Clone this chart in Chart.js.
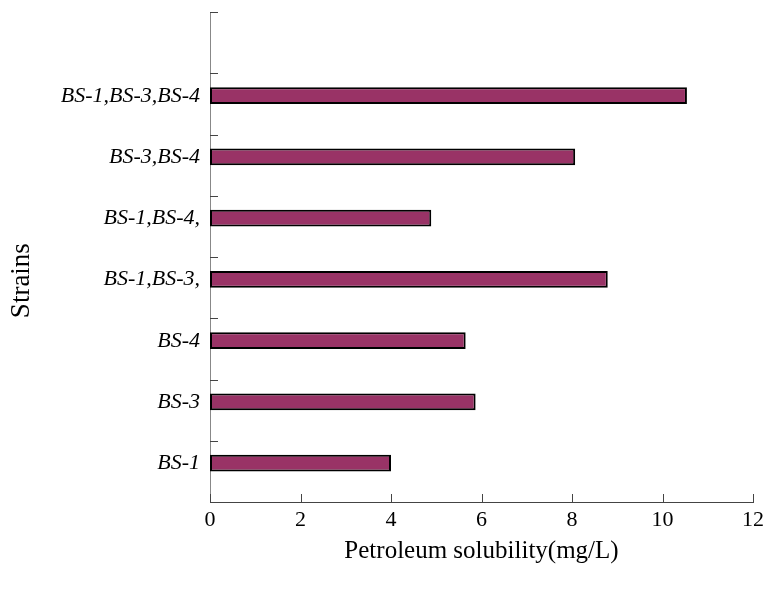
<!DOCTYPE html>
<html>
<head>
<meta charset="utf-8">
<script src="https://cdn.jsdelivr.net/npm/chart.js@4.4.0/dist/chart.umd.min.js"></script>
<style>
  html, body { margin: 0; padding: 0; background: #fff; }
  #chart { display: block; }
</style>
</head>
<body>
<canvas id="chart" width="777" height="589"></canvas>
<script>
// Strains, listed top to bottom (the top slot is empty in the original)
const strains = ['', 'BS-1,BS-3,BS-4', 'BS-3,BS-4', 'BS-1,BS-4,', 'BS-1,BS-3,', 'BS-4', 'BS-3', 'BS-1'];
// Petroleum solubility (mg/L)
const solubility = [null, 10.54, 8.07, 4.89, 8.79, 5.65, 5.87, 4.0];
// second, empty series of the original sheet (keeps bars above the slot centre)
const emptySeries = [null, null, null, null, null, null, null, null];
const xMin = 0;
const xMax = 12;
const xStep = 2;

// short tick marks pointing into the plot, placed from the scales
const innerTicks = {
    id: 'innerTicks',
    afterDatasetsDraw(chart) {
        const { ctx, scales: { x, y } } = chart;
        ctx.save();
        ctx.strokeStyle = '#444';
        ctx.lineWidth = 1;
        ctx.beginPath();
        for (let i = 0; i <= strains.length; i++) {
            const py = Math.round(y.getPixelForValue(i - 0.5)) + 0.5;
            ctx.moveTo(y.right, py);
            ctx.lineTo(y.right + 8, py);
        }
        x.ticks.forEach(t => {
            const px = Math.round(x.getPixelForValue(t.value)) + 0.5;
            ctx.moveTo(px, x.top);
            ctx.lineTo(px, x.top - 8);
        });
        ctx.stroke();
        ctx.restore();
    }
};

const serif = 'Liberation Serif, Times New Roman, serif';

new Chart(document.getElementById('chart').getContext('2d'), {
    type: 'bar',
    data: {
        labels: strains,
        datasets: [{
            label: 'Petroleum solubility',
            data: solubility,
            backgroundColor: '#993366',
            borderColor: '#000',
            borderWidth: 2,
            borderSkipped: false,
            categoryPercentage: 0.54,
            barPercentage: 1.0
        }, {
            label: '',
            data: emptySeries,
            categoryPercentage: 0.54,
            barPercentage: 1.0
        }]
    },
    plugins: [innerTicks],
    options: {
        indexAxis: 'y',
        responsive: false,
        devicePixelRatio: 1,
        animation: false,
        layout: { padding: { left: 0, top: 12, right: 24, bottom: 0 } },
        plugins: {
            legend: { display: false },
            tooltip: { enabled: false }
        },
        scales: {
            x: {
                min: xMin,
                max: xMax,
                grid: { display: false, drawTicks: false },
                border: { display: true, color: '#444', width: 1 },
                ticks: {
                    stepSize: xStep,
                    padding: 5,
                    color: '#000',
                    font: { family: serif, size: 22 }
                },
                title: {
                    display: true,
                    text: 'Petroleum solubility(mg/L)',
                    color: '#000',
                    font: { family: serif, size: 25 },
                    padding: { top: 0, bottom: 23 }
                },
                afterFit(scale) {
                    scale.height = 87;
                }
            },
            y: {
                grid: { display: false, drawTicks: false },
                border: { display: true, color: '#888', width: 1 },
                ticks: {
                    padding: 10,
                    labelOffset: -8,
                    color: '#000',
                    font: { family: serif, size: 22, style: 'italic' }
                },
                title: {
                    display: true,
                    text: 'Strains       ',
                    color: '#000',
                    font: { family: serif, size: 27 },
                    padding: { top: 6, bottom: 0 }
                },
                afterFit(scale) {
                    scale.width = 210;
                    scale.paddingTop = 0;
                    scale.paddingBottom = 0;
                }
            }
        }
    }
});
</script>
</body>
</html>
